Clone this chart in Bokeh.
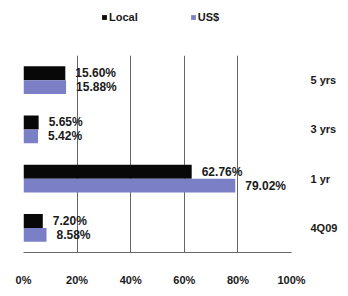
from bokeh.plotting import figure
from bokeh.layouts import column
from bokeh.models import (ColumnDataSource, FactorRange, Range1d, FixedTicker,
                          Legend, LegendItem)
from bokeh.transform import dodge
from bokeh.core.properties import value
from bokeh.embed import file_html
from bokeh.resources import INLINE

categories = ["5 yrs", "3 yrs", "1 yr", "4Q09"]
local = [15.60, 5.65, 62.76, 7.20]
usd = [15.88, 5.42, 79.02, 8.58]
x_ticks = [0, 20, 40, 60, 80, 100]
tick_labels = ["0%", "20%", "40%", "60%", "80%", "100%"]
series_names = ["Local", "US$"]

BLACK = "#080808"
BLUE = "#7b80c6"
FONT = "Liberation Sans"
TXT = "#1a1a1a"

src = ColumnDataSource(dict(
    cat=categories,
    local=local,
    usd=usd,
    local_lbl=["%.2f%%" % v for v in local],
    usd_lbl=["%.2f%%" % v for v in usd],
))

# ---- legend strip (separate small figure above the chart) ----
leg = figure(width=340, height=47, output_backend="svg", toolbar_location=None,
             x_axis_type=None, y_axis_type=None, x_range=Range1d(0, 1),
             y_range=Range1d(0, 1), min_border=0)
leg.outline_line_color = None
leg.grid.visible = False
# legend key renderers: share the chart data but sit outside this strip's view
key_src = ColumnDataSource(dict(y=[-10], right=[1]))
lr1 = leg.hbar(y="y", right="right", height=1, source=key_src,
               fill_color=BLACK, line_color=None)
lr2 = leg.hbar(y="y", right="right", height=1, source=key_src,
               fill_color=BLUE, line_color=None)
legend = Legend(items=[LegendItem(label=series_names[0], renderers=[lr1]),
                       LegendItem(label=series_names[1], renderers=[lr2])],
                location=(78, 24), orientation="horizontal",
                glyph_width=6, glyph_height=6, label_standoff=2, spacing=52,
                padding=0, margin=0, border_line_color=None,
                background_fill_alpha=0,
                label_text_font=FONT, label_text_font_style="bold",
                label_text_font_size="11px", label_text_color=TXT)
leg.add_layout(legend, "center")

# ---- main chart ----
p = figure(width=340, height=241, output_backend="svg", toolbar_location=None,
           y_range=FactorRange(factors=list(reversed(categories))),
           x_range=Range1d(0, 100), y_axis_location="right",
           min_border_left=23, min_border_right=48, min_border_top=8,
           min_border_bottom=27)

p.hbar(y=dodge("cat", 0.14, range=p.y_range), right="local", left=0,
       height=0.28, source=src, fill_color=BLACK, line_color=None)
p.hbar(y=dodge("cat", -0.14, range=p.y_range), right="usd", left=0,
       height=0.28, source=src, fill_color=BLUE, line_color=None)

p.text(x="local", y=dodge("cat", 0.14, range=p.y_range), text="local_lbl",
       source=src, x_offset=10, text_baseline="middle", text_align="left",
       text_font=value(FONT), text_font_style="bold", text_font_size="12px",
       text_color=TXT)
p.text(x="usd", y=dodge("cat", -0.14, range=p.y_range), text="usd_lbl",
       source=src, x_offset=10, text_baseline="middle", text_align="left",
       text_font=value(FONT), text_font_style="bold", text_font_size="12px",
       text_color=TXT)

p.xgrid.ticker = FixedTicker(ticks=x_ticks)
p.xgrid.grid_line_color = "#666666"
p.xgrid.grid_line_width = 1
p.ygrid.grid_line_color = None
p.outline_line_color = None

p.xaxis.ticker = FixedTicker(ticks=x_ticks)
p.xaxis.major_label_overrides = {t: l for t, l in zip(x_ticks, tick_labels)}
p.xaxis.axis_line_color = "#666666"
p.xaxis.major_tick_line_color = None
p.xaxis.minor_tick_line_color = None
p.xaxis.major_label_standoff = 15
p.xaxis.major_label_text_font = FONT
p.xaxis.major_label_text_font_style = "bold"
p.xaxis.major_label_text_font_size = "11px"
p.xaxis.major_label_text_color = TXT

p.yaxis.axis_line_color = None
p.yaxis.major_tick_line_color = None
p.yaxis.minor_tick_line_color = None
p.yaxis.major_label_standoff = 13
p.yaxis.major_label_text_font = FONT
p.yaxis.major_label_text_font_style = "bold"
p.yaxis.major_label_text_font_size = "11px"
p.yaxis.major_label_text_color = TXT

layout = column(leg, p, spacing=0)
open("out.html", "w").write(file_html(layout, INLINE))
